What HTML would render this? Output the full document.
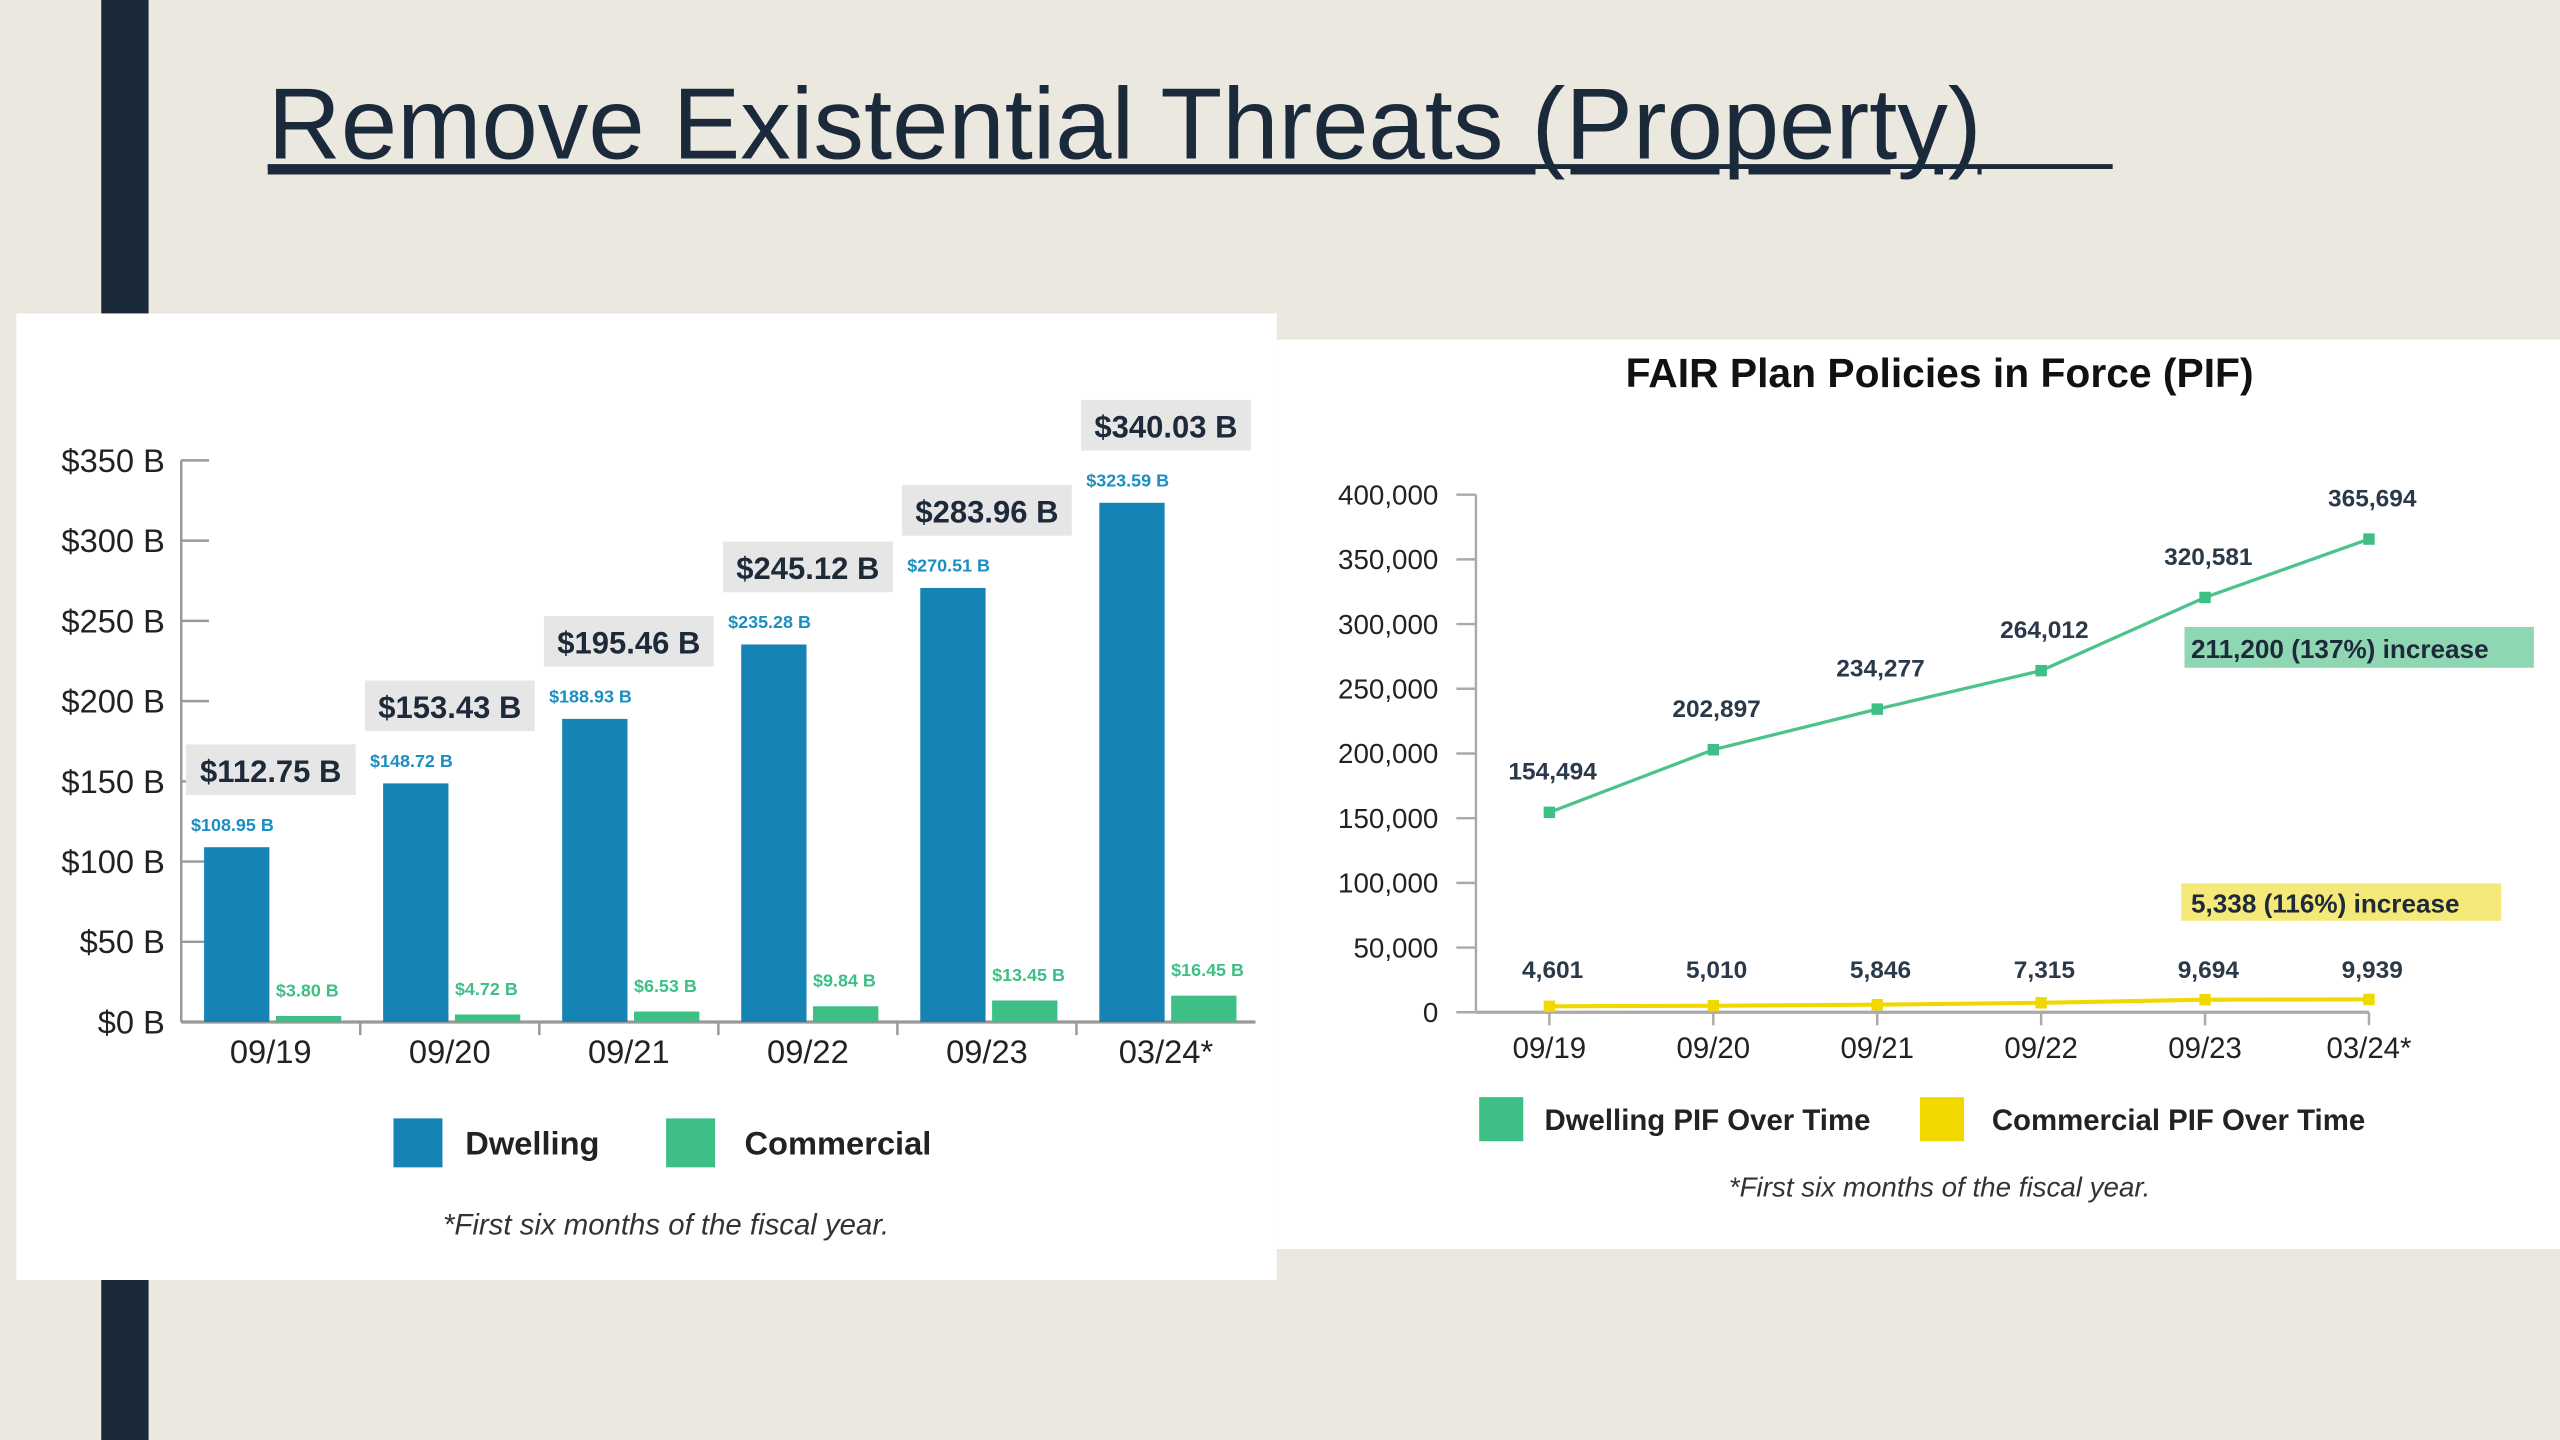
<!DOCTYPE html>
<html><head><meta charset="utf-8"><style>
html,body{margin:0;padding:0;background:#ebe8df;}
svg{display:block;font-family:"Liberation Sans",sans-serif;}
</style></head><body>
<svg id="s" width="2560" height="1440" viewBox="0 0 1568 882" xmlns="http://www.w3.org/2000/svg">
<rect x="0" y="0" width="1568" height="882" fill="#ebe8df"/>
<rect x="62" y="0" width="29" height="192" fill="#1b2a3a"/>
<rect x="62" y="784" width="29" height="98" fill="#1b2a3a"/>
<text x="164" y="97" font-size="62" fill="#1b2a3a" text-decoration="underline">Remove Existential Threats (Property)</text>
<line x1="164" y1="102" x2="1294" y2="102" stroke="#1b2a3a" stroke-width="3"/>
<rect x="10" y="192" width="772" height="592" fill="#fff"/>
<rect x="782" y="208" width="786" height="557" fill="#fff"/>
<g id="left"></g>
<g id="right"></g>
</svg>
<script>
const categories = ["09/19","09/20","09/21","09/22","09/23","03/24"];
const dwelling = [108.95,148.72,188.93,235.28,270.51,323.59];
const commercial = [3.80,4.72,6.53,9.84,13.45,16.45];
const totals = [112.75,153.43,195.46,245.12,283.96,340.03];
const barTicks = [0,50,100,150,200,250,300,350];

const pifCategories = ["09/19","09/20","09/21","09/22","09/23","03/24"];
const dwellingPif = [154494,202897,234277,264012,320581,365694];
const commercialPif = [4601,5010,5846,7315,9694,9939];
const pifTicks = [0,50000,100000,150000,200000,250000,300000,350000,400000];

const NS="http://www.w3.org/2000/svg";
function mk(parent,tag,attrs,text){const e=document.createElementNS(NS,tag);for(const k in attrs)e.setAttribute(k,attrs[k]);if(text!==undefined)e.textContent=text;parent.appendChild(e);return e;}
const L=document.getElementById('left'), R=document.getElementById('right');

// ---- left bar chart
const bx0=111,bx1=769,by0=626,by350=282;
const yB=v=>by0-(v/350)*(by0-by350);
const gw=(bx1-bx0)/categories.length;
const xG=i=>bx0+i*gw;
let ax=mk(L,'line',{x1:bx0,y1:by350,x2:bx0,y2:by0,stroke:'#999','stroke-width':1.5});

ax=mk(L,'line',{x1:bx0,y1:by0,x2:bx1,y2:by0,stroke:'#999','stroke-width':2});

barTicks.forEach(t=>{
  let l=mk(L,'line',{x1:bx0,y1:yB(t),x2:bx0+17,y2:yB(t),stroke:'#999','stroke-width':1.5});
  
  let tx=mk(L,'text',{x:101,y:yB(t)+7,'font-size':20,'text-anchor':'end',fill:'#222'},'$'+t+' B');
  
});
categories.forEach((c,i)=>{
  const g=xG(i), cx=g+gw/2;
  if(i>0){let t=mk(L,'line',{x1:g,y1:by0,x2:g,y2:by0+8,stroke:'#999','stroke-width':1.5});
    }
  const dt=yB(dwelling[i]);
  let b=mk(L,'rect',{x:g+14,y:dt,width:40,height:by0-dt,fill:'#1583b3'});
  
  const ct=yB(commercial[i]);
  b=mk(L,'rect',{x:g+58,y:ct,width:40,height:by0-ct,fill:'#3dbf85'});
  
  let t=mk(L,'text',{x:g+6,y:dt-10,'font-size':11,'font-weight':'bold',fill:'#1a8fc0'},'$'+dwelling[i].toFixed(2)+' B');
  
  t=mk(L,'text',{x:g+58,y:ct-12,'font-size':11,'font-weight':'bold',fill:'#3dbf85'},'$'+commercial[i].toFixed(2)+' B');
  
  let bx=mk(L,'rect',{x:cx-52,y:dt-63,width:104,height:31,fill:'#e6e6e6'});
  
  t=mk(L,'text',{x:cx,y:dt-40,'font-size':19,'font-weight':'bold','text-anchor':'middle',fill:'#1e2a3a'},'$'+totals[i].toFixed(2)+' B');
  
  t=mk(L,'text',{x:cx,y:651,'font-size':20,'text-anchor':'middle',fill:'#222'},c+(i==categories.length-1?'*':''));
  
});
let e;
e=mk(L,'rect',{x:241,y:685,width:30,height:30,fill:'#1583b3'});
e=mk(L,'text',{x:285,y:707,'font-size':20,'font-weight':'bold',fill:'#222'},'Dwelling');
e=mk(L,'rect',{x:408,y:685,width:30,height:30,fill:'#3dbf85'});
e=mk(L,'text',{x:456,y:707,'font-size':20,'font-weight':'bold',fill:'#222'},'Commercial');
e=mk(L,'text',{x:408,y:756,'font-size':18,'font-style':'italic','text-anchor':'middle',fill:'#333'},'*First six months of the fiscal year.');

// ---- right line chart
const rx0=904,ry0=620,ry400=303;
const yP=v=>ry0-(v/400000)*(ry0-ry400);
const xP=i=>949+i*100.4;
e=mk(R,'text',{x:1188,y:237,'font-size':25,'font-weight':'bold','text-anchor':'middle',fill:'#111'},'FAIR Plan Policies in Force (PIF)');
e=mk(R,'line',{x1:rx0,y1:ry400,x2:rx0,y2:ry0,stroke:'#aaa','stroke-width':1.5});
e=mk(R,'line',{x1:rx0,y1:ry0,x2:1451,y2:ry0,stroke:'#aaa','stroke-width':2});
pifTicks.forEach(t=>{
  let l=mk(R,'line',{x1:rx0-12,y1:yP(t),x2:rx0,y2:yP(t),stroke:'#aaa','stroke-width':1.5});
  
  let tx=mk(R,'text',{x:881,y:yP(t)+6,'font-size':17,'text-anchor':'end',fill:'#222'},t.toLocaleString('en-US'));
  
});
e=mk(R,'polyline',{points:dwellingPif.map((v,i)=>xP(i)+','+yP(v)).join(' '),fill:'none',stroke:'#4cc38c','stroke-width':2});

e=mk(R,'polyline',{points:commercialPif.map((v,i)=>xP(i)+','+yP(v)).join(' '),fill:'none',stroke:'#f0d800','stroke-width':2.5});

pifCategories.forEach((c,i)=>{
  const x=xP(i);
  let t=mk(R,'line',{x1:x,y1:ry0,x2:x,y2:ry0+8,stroke:'#aaa','stroke-width':1.5});
  let p=mk(R,'rect',{x:x-3.5,y:yP(dwellingPif[i])-3.5,width:7,height:7,fill:'#3dbf85'});
  
  p=mk(R,'rect',{x:x-3.5,y:yP(commercialPif[i])-3.5,width:7,height:7,fill:'#f0d800'});
  
  t=mk(R,'text',{x:x+2,y:yP(dwellingPif[i])-20,'font-size':15,'font-weight':'bold','text-anchor':'middle',fill:'#2b3a4a'},dwellingPif[i].toLocaleString('en-US'));
  
  t=mk(R,'text',{x:x+2,y:599,'font-size':15,'font-weight':'bold','text-anchor':'middle',fill:'#2b3a4a'},commercialPif[i].toLocaleString('en-US'));
  
  t=mk(R,'text',{x:x,y:648,'font-size':18,'text-anchor':'middle',fill:'#222'},c+(i==pifCategories.length-1?'*':''));
  
});
e=mk(R,'rect',{x:1338,y:384,width:214,height:25,fill:'#8fd7b3'});
e=mk(R,'text',{x:1342,y:403,'font-size':16,'font-weight':'bold',fill:'#1e2a3a'},'211,200 (137%)  increase');
e=mk(R,'rect',{x:1336,y:541,width:196,height:23,fill:'#f5e97a'});
e=mk(R,'text',{x:1342,y:559,'font-size':16,'font-weight':'bold',fill:'#1e2a3a'},'5,338 (116%) increase');
e=mk(R,'rect',{x:906,y:672,width:27,height:27,fill:'#3dbf85'});
e=mk(R,'text',{x:946,y:692,'font-size':18,'font-weight':'bold',fill:'#222'},'Dwelling PIF Over Time');
e=mk(R,'rect',{x:1176,y:672,width:27,height:27,fill:'#f0d800'});
e=mk(R,'text',{x:1220,y:692,'font-size':18,'font-weight':'bold',fill:'#222'},'Commercial PIF Over Time');
e=mk(R,'text',{x:1188,y:733,'font-size':17,'font-style':'italic','text-anchor':'middle',fill:'#333'},'*First six months of the fiscal year.');
</script>
</body></html>
